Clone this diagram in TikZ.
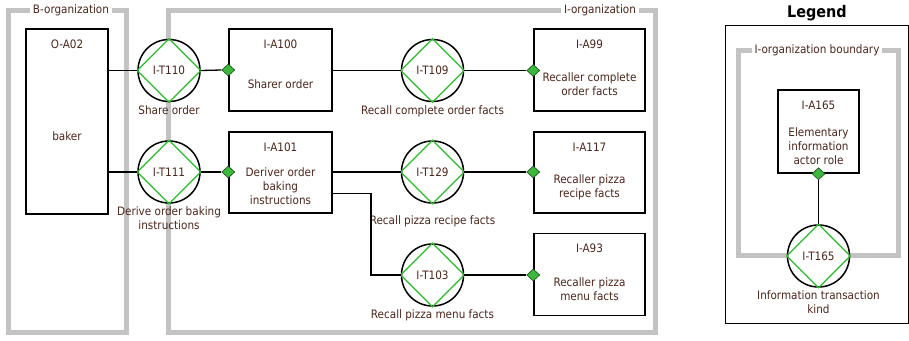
\documentclass[tikz,border=0pt]{standalone}
\usepackage{fontspec}
\setmainfont{DejaVu Sans Condensed}
\usetikzlibrary{shapes.geometric,calc}
\definecolor{txt}{RGB}{75,38,28}
\definecolor{bnd}{RGB}{195,195,195}
\definecolor{dgreen}{RGB}{60,185,60}
\definecolor{lgreen}{RGB}{40,190,40}
\begin{document}
\begin{tikzpicture}[x=1pt,y=-1pt,
  font=\fontsize{11.6}{14}\selectfont, text=txt,
  boundary/.style={draw=bnd, line width=5pt},
  btitle/.style={fill=white, inner sep=3pt, text=txt},
  actor/.style={draw=black, line width=1.5pt, fill=white, inner sep=0pt},
  trans/.style={circle, draw=black, line width=1.5pt, fill=white, minimum size=62pt, inner sep=0pt},
  tdiam/.style={draw=lgreen, line width=1.2pt},
  conn/.style={draw=black, line width=1.3pt},
  execd/.style={diamond, draw=black!60!dgreen, fill=dgreen, minimum width=13pt, minimum height=12pt, inner sep=0pt, line width=0.6pt},
  tlabel/.style={anchor=north, align=center, inner sep=0pt},
  ablock/.style={align=center, inner sep=0pt}
]
\useasboundingbox (0,0) rectangle (909,340);

% organisation boundaries
\draw[boundary] (8,10) rectangle (126,332);
\node[btitle] (btit) at (71,10) {B-organization};
\draw[boundary] (168,10) rectangle (655,332);
\node[btitle] (itit) at (600,10) {I-organization};

% actors
\node[actor, minimum width=82pt, minimum height=185pt] (oa02) at (67,121.5) {};
\node[ablock] (oa02id) at ($(oa02.north)+(0,16)$) {O-A02};
\node[ablock] (oa02nm) at ($(oa02.center)+(0,14.5)$) {baker};

\node[actor, minimum width=103pt, minimum height=82pt] (a100) at (280.5,70) {};
\node[ablock] (a100id) at ($(a100.north)+(0,16)$) {I-A100};
\node[ablock] (a100nm) at ($(a100.center)+(0,14)$) {Sharer order};

\node[actor, minimum width=103pt, minimum height=81pt] (a101) at (280.5,172.5) {};
\node[ablock] (a101id) at ($(a101.north)+(0,16)$) {I-A101};
\node[ablock] (a101nm) at ($(a101.center)+(0,14)$) {Deriver order\\baking\\instructions};

\node[actor, minimum width=111pt, minimum height=82pt] (a99) at (589.5,70) {};
\node[ablock] (a99id) at ($(a99.north)+(0,16)$) {I-A99};
\node[ablock] (a99nm) at ($(a99.center)+(0,14.5)$) {Recaller complete\\order facts};

\node[actor, minimum width=111pt, minimum height=81pt] (a117) at (589.5,172.5) {};
\node[ablock] (a117id) at ($(a117.north)+(0,16)$) {I-A117};
\node[ablock] (a117nm) at ($(a117.center)+(0,14.5)$) {Recaller pizza\\recipe facts};

\node[actor, minimum width=111pt, minimum height=82pt] (a93) at (589.5,274.5) {};
\node[ablock] (a93id) at ($(a93.north)+(0,16)$) {I-A93};
\node[ablock] (a93nm) at ($(a93.center)+(0,14.5)$) {Recaller pizza\\menu facts};

% transactions
\node[trans] (t110) at (169,70.5) {I-T110};
\node[trans] (t111) at (169,172) {I-T111};
\node[trans] (t109) at (432.5,70.5) {I-T109};
\node[trans] (t129) at (432.5,172) {I-T129};
\node[trans] (t103) at (432.5,275) {I-T103};
\foreach \t in {t110,t111,t109,t129,t103}{
  \draw[tdiam] (\t.north) -- (\t.east) -- (\t.south) -- (\t.west) -- cycle;
}
\node[tlabel] (l110) at ($(t110.south)+(0,3)$) {Share order};
\node[tlabel] (l111) at ($(t111.south)+(0,3)$) {Derive order baking\\instructions};
\node[tlabel] (l109) at ($(t109.south)+(0,3)$) {Recall complete order facts};
\node[tlabel] (l129) at ($(t129.south)+(0,12)$) {Recall pizza recipe facts};
\node[tlabel] (l103) at ($(t103.south)+(0,3)$) {Recall pizza menu facts};

% executor diamonds
\node[execd] (d100) at (a100.west) {};
\node[execd] (d101) at (a101.west |- t111) {};
\node[execd] (d99) at (a99.west |- t109) {};
\node[execd] (d117) at (a117.west |- t129) {};
\node[execd] (d93) at (a93.west |- t103) {};

% connectors
\draw[conn] (oa02.east |- t110) -- (t110.west);
\draw[conn] (oa02.east |- t111) -- (t111.west);
\draw[conn] (t110.east) -- (d100.west);
\draw[conn] (t111.east) -- (d101.west);
\draw[conn] (a100.east |- t109) -- (t109.west);
\draw[conn] (t109.east) -- (d99.west);
\draw[conn] (a101.east |- t129) -- (t129.west);
\draw[conn] (t129.east) -- (d117.west);
\coordinate (bend1) at (371,193.5);
\draw[conn] (a101.east |- bend1) -- (bend1) |- (t103.west);
\draw[conn] (t103.east) -- (d93.west);

% legend
\node[font=\fontsize{16}{18}\selectfont\bfseries, text=black] (legt) at (817,13) {Legend};
\draw[draw=black, line width=0.8pt] (725,25) rectangle (908,323);
\draw[boundary] (738,50) rectangle (898,255);
\node[btitle] (lbt) at (817,50) {I-organization boundary};
\node[actor, minimum width=81pt, minimum height=83pt] (a165) at (818.5,131.5) {};
\node[ablock] (a165id) at ($(a165.north)+(0,16)$) {I-A165};
\node[ablock] (a165nm) at ($(a165.center)+(0,14.5)$) {Elementary\\information\\actor role};
\node[trans] (t165) at (818.5,256) {I-T165};
\draw[tdiam] (t165.north) -- (t165.east) -- (t165.south) -- (t165.west) -- cycle;
\node[tlabel] (l165) at ($(t165.south)+(0,3)$) {Information transaction\\kind};
\node[execd] (d165) at (a165.south) {};
\draw[conn] (d165.south) -- (t165.north);
\end{tikzpicture}
\end{document}
